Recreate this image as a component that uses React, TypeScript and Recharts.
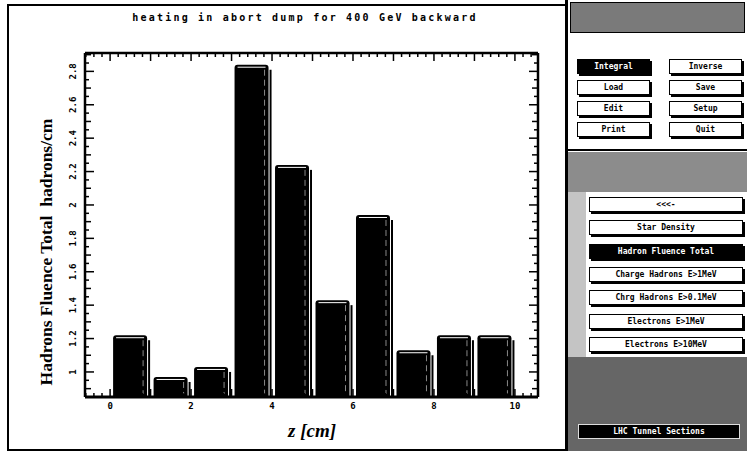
import { BarChart, Bar, XAxis, YAxis } from 'recharts';

// bin centres along z [cm] and the fluence
const zCenters = [0.5, 1.5, 2.5, 3.5, 4.5, 5.5, 6.5, 7.5, 8.5, 9.5];
const fluence = [1.22, 0.97, 1.03, 2.84, 2.24, 1.43, 1.94, 1.13, 1.22, 1.22];

const xLabelTicks = [0, 2, 4, 6, 8, 10];
const yLabelTicks = [1, 1.2, 1.4, 1.6, 1.8, 2, 2.2, 2.4, 2.6, 2.8];

const topButtons = [
  ['Integral', 'Inverse'],
  ['Load', 'Save'],
  ['Edit', 'Setup'],
  ['Print', 'Quit'],
];
const listButtons = [
  '<<<-',
  'Star Density',
  'Hadron Fluence Total',
  'Charge Hadrons E>1MeV',
  'Chrg Hadrons E>0.1MeV',
  'Electrons E>1MeV',
  'Electrons E>10MeV',
];

const X_DOMAIN: [number, number] = [-0.62, 10.57];
const Y_DOMAIN: [number, number] = [0.85, 2.91];

const data = zCenters.map((z, i) => ({ z, value: fluence[i] }));

// minor tick positions for the frame
const xMinor: number[] = [];
for (let k = -3; k <= 52; k++) xMinor.push(Math.round(k * 20) / 100);
const yMinor: number[] = [];
for (let k = 18; k <= 58; k++) yMinor.push(Math.round(k * 5) / 100);

const mono = '"DejaVu Sans Mono", "Liberation Mono", monospace';
const serif = '"Liberation Serif", "DejaVu Serif", serif';

const yLen = (v: number) => {
  const k = Math.round(v * 100);
  return k % 20 === 0 ? 9 : k % 10 === 0 ? 6 : 4;
};
const xLen = (v: number) => {
  const k = Math.round(v * 100);
  return k % 100 === 0 ? 8 : 4;
};

const LeftTick = (props: any) => {
  const { x, y, payload } = props;
  const v = payload.value;
  const isLabel = yLabelTicks.some((t) => Math.abs(t - v) < 1e-6);
  return (
    <g>
      <line x1={x} x2={x + yLen(v)} y1={y} y2={y} stroke="#000" strokeWidth={1.5} />
      {isLabel && (
        <text
          x={x - 12}
          y={y}
          transform={`rotate(-90 ${x - 12} ${y})`}
          textAnchor="middle"
          dominantBaseline="central"
          fontFamily={mono}
          fontWeight="bold"
          fontSize={9}
          fill="#000"
        >
          {String(v)}
        </text>
      )}
    </g>
  );
};

const RightTick = (props: any) => {
  const { x, y, payload } = props;
  return <line x1={x} x2={x - yLen(payload.value)} y1={y} y2={y} stroke="#000" strokeWidth={1.5} />;
};

const BottomTick = (props: any) => {
  const { x, y, payload } = props;
  const v = payload.value;
  const isLabel = xLabelTicks.some((t) => Math.abs(t - v) < 1e-6);
  return (
    <g>
      <line x1={x} x2={x} y1={y} y2={y - xLen(v)} stroke="#000" strokeWidth={1.5} />
      {isLabel && (
        <text x={x} y={y + 12} textAnchor="middle" fontFamily={mono} fontWeight="bold" fontSize={9} fill="#000">
          {String(v)}
        </text>
      )}
    </g>
  );
};

const TopTick = (props: any) => {
  const { x, y, payload } = props;
  return <line x1={x} x2={x} y1={y} y2={y + xLen(payload.value)} stroke="#000" strokeWidth={1.5} />;
};

const Column = (props: any) => {
  const { x, y, width, height } = props;
  if (height <= 0) return null;
  const r = 3;
  const b = y + height;
  const path = `M${x},${b} L${x},${y + r} Q${x},${y} ${x + r},${y} L${x + width - r},${y} Q${x + width},${y} ${x + width},${y + r} L${x + width},${b} Z`;
  return (
    <g>
      <line x1={x + width + 2} x2={x + width + 2} y1={y + 5} y2={b} stroke="#000" strokeWidth={2} />
      <path d={path} fill="#000" />
      <line x1={x + 3} x2={x + width - 3} y1={y + 2.5} y2={y + 2.5} stroke="#fff" strokeWidth={1} />
      <line x1={x + width - 4} x2={x + width - 4} y1={y + 5} y2={b - 3} stroke="#888" strokeWidth={1} strokeDasharray="6 4" />
    </g>
  );
};

const btnBase: React.CSSProperties = {
  position: 'absolute',
  height: 13,
  border: '1.5px solid #000',
  boxShadow: '2px 2px 0 #000',
  background: '#fff',
  fontFamily: mono,
  fontWeight: 'bold',
  fontSize: 8,
  lineHeight: '13px',
  textAlign: 'center',
  color: '#000',
  whiteSpace: 'nowrap',
  overflow: 'hidden',
};

export default function App() {
  return (
    <div style={{ position: 'relative', width: 747, height: 451, background: '#fff', overflow: 'hidden' }}>
      <style>{`body{margin:0}`}</style>

      {/* plot window frame */}
      <div style={{ position: 'absolute', left: 7, top: 4, width: 556, height: 443, border: '2px solid #000' }} />

      <div style={{ position: 'absolute', left: 0, top: 0 }}>
        <BarChart
          width={566}
          height={451}
          data={data}
          margin={{ top: 48, right: 18, bottom: 24, left: 35 }}
        >
          <XAxis
            dataKey="z"
            type="number"
            domain={X_DOMAIN}
            allowDataOverflow
            ticks={xMinor}
            interval={0}
            height={30}
            tickSize={0}
            tickMargin={0}
            tickLine={false}
            tick={<BottomTick />}
            axisLine={{ stroke: '#000', strokeWidth: 3 }}
          />
          <XAxis
            xAxisId="top"
            orientation="top"
            dataKey="z"
            type="number"
            domain={X_DOMAIN}
            allowDataOverflow
            ticks={xMinor}
            interval={0}
            height={5}
            tickSize={0}
            tickMargin={0}
            tickLine={false}
            tick={<TopTick />}
            axisLine={{ stroke: '#000', strokeWidth: 2.5 }}
          />
          <YAxis
            type="number"
            domain={Y_DOMAIN}
            allowDataOverflow
            ticks={yMinor}
            interval={0}
            width={50}
            tickSize={0}
            tickMargin={0}
            tickLine={false}
            tick={<LeftTick />}
            axisLine={{ stroke: '#000', strokeWidth: 2.5 }}
          />
          <YAxis
            yAxisId="right"
            orientation="right"
            type="number"
            domain={Y_DOMAIN}
            allowDataOverflow
            ticks={yMinor}
            interval={0}
            width={10}
            tickSize={0}
            tickMargin={0}
            tickLine={false}
            tick={<RightTick />}
            axisLine={{ stroke: '#000', strokeWidth: 2.5 }}
          />
          <Bar dataKey="value" barSize={34} fill="#000" shape={<Column />} isAnimationActive={false} />
        </BarChart>
      </div>

      <svg width={566} height={451} style={{ position: 'absolute', left: 0, top: 0, pointerEvents: 'none' }}>
        <text
          x={305}
          y={21}
          textAnchor="middle"
          fontFamily={mono}
          fontWeight="bold"
          fontSize={10}
          letterSpacing={2.2}
          fill="#000"
        >
          heating in abort dump for 400 GeV backward
        </text>
        <text
          x={46}
          y={252}
          transform="rotate(-90 46 252)"
          textAnchor="middle"
          dominantBaseline="central"
          fontFamily={serif}
          fontWeight="bold"
          fontSize={17.5}
          fill="#000"
          style={{ whiteSpace: 'pre' }}
        >
          {'Hadrons Fluence Total\u00a0\u00a0hadrons/cm'}
        </text>
        <text x={312} y={437} textAnchor="middle" fontFamily={serif} fontStyle="italic" fontWeight="bold" fontSize={19} fill="#000">
          z [cm]
        </text>
      </svg>

      {/* control panel */}
      <div style={{ position: 'absolute', left: 565, top: 0, width: 182, height: 451, borderLeft: '3px solid #000', background: '#fff' }}>
        <div style={{ position: 'absolute', left: 2, top: 2, width: 173, height: 29, background: '#7a7a7a', border: '1px solid #000' }} />
        {topButtons.map((row, r) =>
          row.map((label, c) => (
            <div
              key={label}
              style={{
                ...btnBase,
                left: c === 0 ? 9 : 101,
                top: 59 + r * 21,
                width: 71,
                background: r === 0 && c === 0 ? '#000' : '#fff',
                color: r === 0 && c === 0 ? '#fff' : '#000',
              }}
            >
              {label}
            </div>
          ))
        )}
        <div style={{ position: 'absolute', left: 0, top: 149, width: 182, height: 2, background: '#000' }} />
        <div style={{ position: 'absolute', left: 0, top: 152, width: 182, height: 40, background: '#8c8c8c' }} />
        <div style={{ position: 'absolute', left: 0, top: 192, width: 18, height: 165, background: '#c4c4c4' }} />
        {listButtons.map((label, i) => (
          <div
            key={label}
            style={{
              ...btnBase,
              left: 21,
              top: 197 + i * 23.3,
              width: 152,
              background: i === 2 ? '#000' : '#fff',
              color: i === 2 ? '#fff' : '#000',
            }}
          >
            {label}
          </div>
        ))}
        <div style={{ position: 'absolute', left: 0, top: 357, width: 182, height: 94, background: '#666' }} />
        <div
          style={{
            ...btnBase,
            left: 10,
            top: 424,
            width: 160,
            background: '#000',
            color: '#fff',
            boxShadow: 'none',
            border: '1.5px solid #ddd',
          }}
        >
          LHC Tunnel Sections
        </div>
      </div>
    </div>
  );
}
